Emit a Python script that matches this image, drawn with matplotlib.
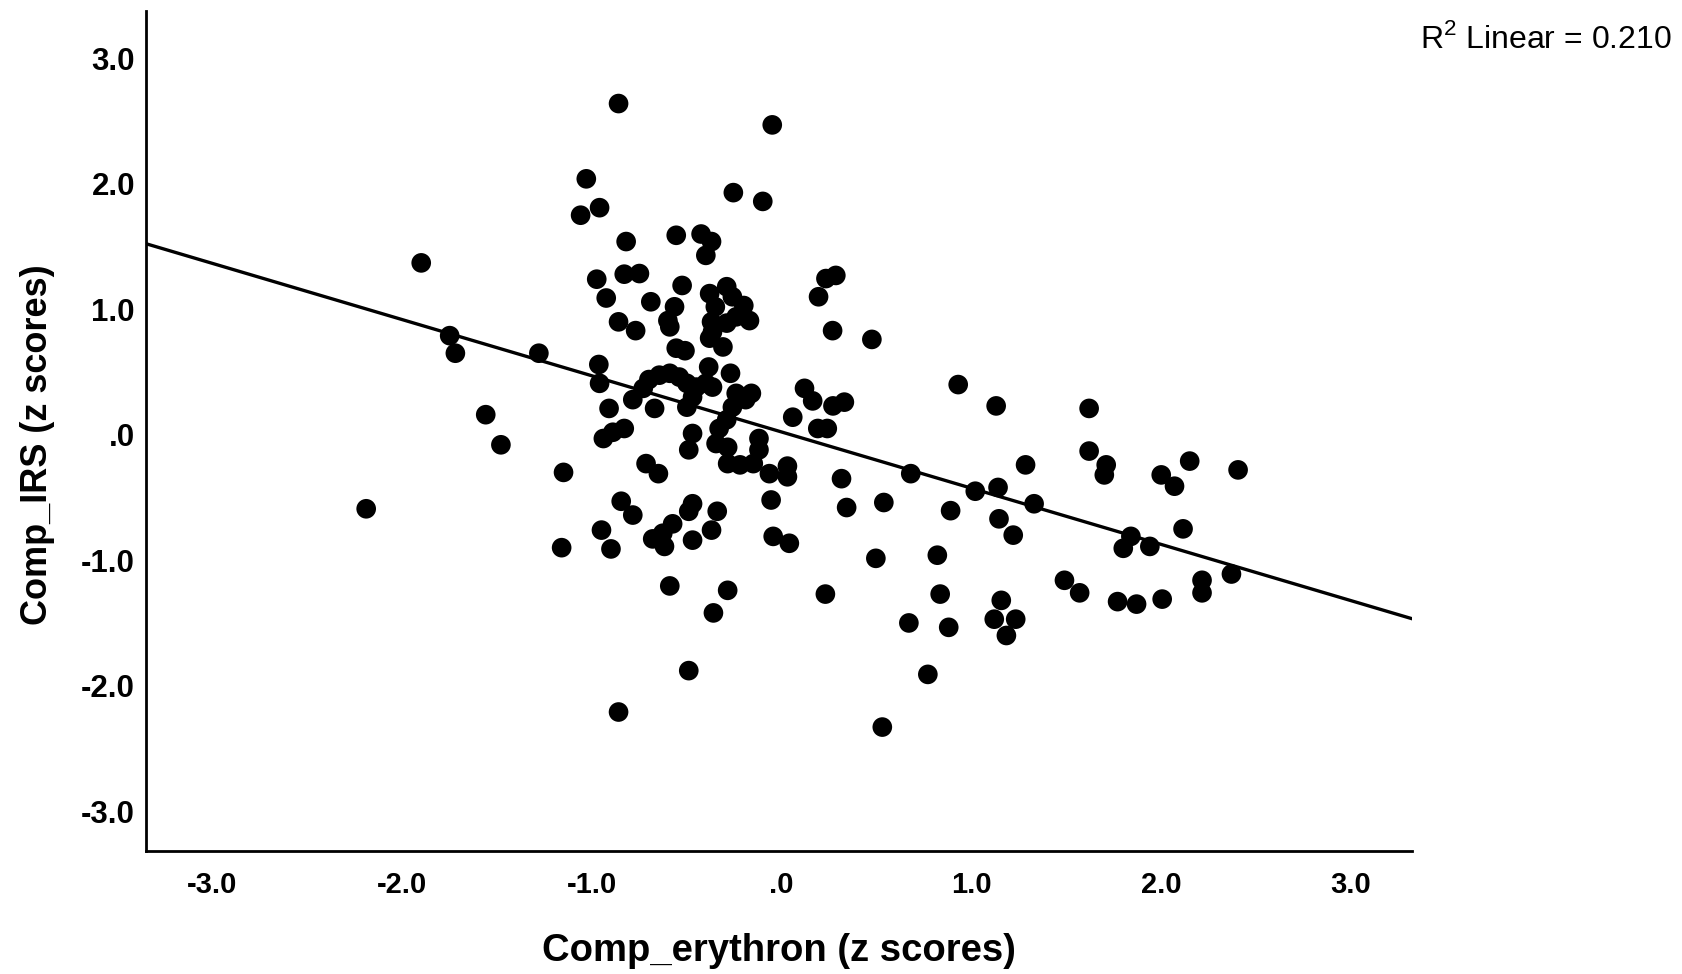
import numpy as np
import matplotlib
matplotlib.use("Agg")
import matplotlib.pyplot as plt
from matplotlib import font_manager

# Comp_erythron (x) and Comp_IRS (y), z scores
erythron = [
    -2.19, -1.90, -1.75, -1.72, -1.56, -1.48, -1.28, -1.15, -1.16,
    -0.86, -1.03, -0.96, -1.06, -0.82, -0.975, -0.925, -0.83, -0.75, -0.86, -0.77,
    -0.69, -0.556, -0.525, -0.565, -0.60, -0.59, -0.556, -0.51, -0.425, -0.37,
    -0.40, -0.38, -0.29, -0.26, -0.20, -0.35, -0.17, -0.37, -0.29, -0.24,
    -0.38, -0.31, -0.365, -0.255, -0.10, -0.05,
    -0.964, -0.96, -0.91, -0.94, -0.89, -0.83, -0.785, -0.67, -0.385, -0.27,
    -0.70, -0.645, -0.59, -0.54, -0.50, -0.45, -0.40, -0.365, -0.47, -0.50,
    -0.73, -0.24, -0.19, -0.16, -0.26, -0.29, -0.33, -0.47, -0.49, -0.346,
    -0.285, -0.285, -0.22, -0.15, -0.12, -0.12, -0.065, 0.03, 0.03, -0.056,
    -0.045, 0.04,
    -0.715, -0.65, -0.846, -0.785, -0.95, -0.90, -0.47, -0.49, -0.34, -0.37,
    -0.47, -0.575, -0.627, -0.68, -0.618, -0.59, -0.285, -0.36, -0.49, -0.86,
    0.058, 0.12, 0.163, 0.19, 0.24, 0.27, 0.33, 0.233, 0.285, 0.194,
    0.268, 0.475, 0.315, 0.342, 0.23, 0.538, 0.496, 0.53, 0.68, 0.67,
    0.77, 0.82, 0.835, 0.88, 0.89, 0.93, 1.02, 1.14, 1.13, 1.145,
    1.22, 1.157, 1.12, 1.233, 1.184, 1.285, 1.33, 1.49, 1.57, 1.62,
    1.62, 1.71, 1.70, 1.77, 1.84, 1.80, 1.87, 1.94, 2.005, 2.0,
    2.07, 2.15, 2.115, 2.215, 2.215, 2.37, 2.405,
]
irs = [
    -0.59, 1.37, 0.79, 0.65, 0.16, -0.08, 0.65, -0.30, -0.90,
    2.64, 2.04, 1.81, 1.75, 1.54, 1.24, 1.09, 1.28, 1.285, 0.90, 0.83,
    1.06, 1.59, 1.19, 1.02, 0.91, 0.86, 0.69, 0.67, 1.60, 1.54,
    1.43, 1.125, 1.18, 1.10, 1.03, 1.02, 0.91, 0.90, 0.89, 0.94,
    0.77, 0.70, 0.82, 1.93, 1.86, 2.47,
    0.56, 0.41, 0.21, -0.03, 0.02, 0.05, 0.28, 0.21, 0.54, 0.49,
    0.44, 0.475, 0.49, 0.46, 0.41, 0.38, 0.41, 0.38, 0.30, 0.22,
    0.37, 0.33, 0.28, 0.33, 0.22, 0.12, 0.05, 0.01, -0.12, -0.07,
    -0.10, -0.23, -0.24, -0.23, -0.03, -0.12, -0.31, -0.25, -0.335, -0.52,
    -0.81, -0.865,
    -0.23, -0.31, -0.53, -0.64, -0.76, -0.91, -0.55, -0.61, -0.61, -0.76,
    -0.84, -0.71, -0.785, -0.83, -0.89, -1.205, -1.24, -1.42, -1.88, -2.21,
    0.14, 0.37, 0.27, 0.05, 0.05, 0.23, 0.26, 1.245, 1.27, 1.10,
    0.83, 0.76, -0.35, -0.58, -1.27, -0.54, -0.985, -2.33, -0.31, -1.50,
    -1.91, -0.96, -1.27, -1.535, -0.605, 0.40, -0.45, -0.42, 0.23, -0.67,
    -0.80, -1.32, -1.47, -1.47, -1.60, -0.24, -0.55, -1.16, -1.26, 0.21,
    -0.13, -0.24, -0.32, -1.33, -0.81, -0.905, -1.35, -0.89, -1.31, -0.32,
    -0.41, -0.21, -0.75, -1.16, -1.26, -1.11, -0.28,
]
ticks = [-3.0, -2.0, -1.0, 0.0, 1.0, 2.0, 3.0]
tick_labels = ["-3.0", "-2.0", "-1.0", ".0", "1.0", "2.0", "3.0"]
r2_text = r"R$^{2}$ Linear = 0.210"

plt.rcParams["font.family"] = ["Liberation Sans", "DejaVu Sans"]
plt.rcParams["mathtext.fontset"] = "custom"
plt.rcParams["mathtext.rm"] = "Liberation Sans"

# condensed face for the x tick labels if it is there
names = {f.name for f in font_manager.fontManager.ttflist}
narrow = "Liberation Sans Narrow" if "Liberation Sans Narrow" in names else "Liberation Sans"

x = np.array(erythron)
y = np.array(irs)

fig = plt.figure(figsize=(16.83, 9.74), dpi=100)
ax = fig.add_axes([0.0868, 0.126, 0.752, 0.863])

ax.scatter(x, y, s=200, color="black", edgecolors="none", zorder=3)

xlim = (-3.35, 3.32)
slope, intercept = np.polyfit(x, y, 1)
xs = np.array(xlim)
ax.plot(xs, intercept + slope * xs, color="black", linewidth=2.4, zorder=2)

ax.set_xlim(*xlim)
ax.set_ylim(-3.32, 3.38)
ax.set_xticks(ticks)
ax.set_xticklabels(tick_labels, fontsize=21, fontweight="bold", family=[narrow, "DejaVu Sans"])
ax.set_yticks(ticks)
ax.set_yticklabels(tick_labels, fontsize=22.5, fontweight="bold")
ax.tick_params(length=0)
ax.tick_params(axis="x", pad=14)
ax.tick_params(axis="y", pad=8)

for side in ["top", "right"]:
    ax.spines[side].set_visible(False)
for side in ["left", "bottom"]:
    ax.spines[side].set_linewidth(2.0)
    ax.spines[side].set_color("black")

ax.set_xlabel("Comp_erythron (z scores)", fontsize=27.5, fontweight="bold", va="center")
ax.xaxis.set_label_coords(0.5, -0.119)
ax.set_ylabel("Comp_IRS (z scores)", fontsize=26, fontweight="bold", va="center")
ax.yaxis.set_label_coords(-0.086, 0.484)

fig.text(0.9935, 0.96, r2_text, fontsize=23, ha="right", va="center")

fig.savefig("out.png", dpi=100)
